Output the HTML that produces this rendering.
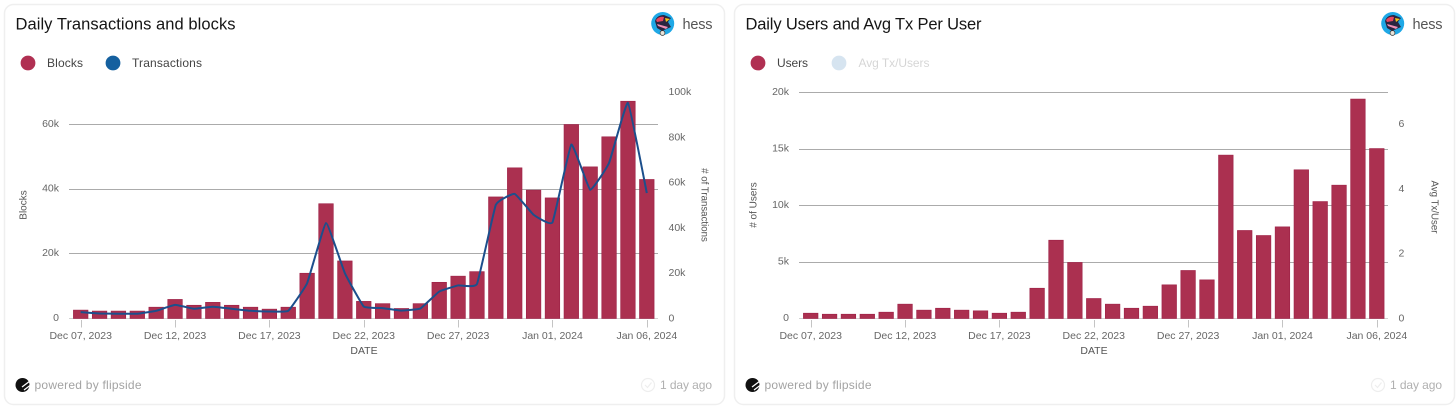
<!DOCTYPE html>
<html lang="en">
<head>
<meta charset="utf-8">
<title>Daily Transactions and Users</title>
<style>
html,body{margin:0;padding:0;width:1456px;height:411px;background:#fff;overflow:hidden}
svg{display:block}
text{font-family:"Liberation Sans",Arial,sans-serif}
</style>
</head>
<body>
<svg id="root" xmlns="http://www.w3.org/2000/svg" width="1456" height="411" viewBox="0 0 1456 411"></svg>
<script>
const dates = ["Dec 07, 2023","Dec 08, 2023","Dec 09, 2023","Dec 10, 2023","Dec 11, 2023","Dec 12, 2023","Dec 13, 2023","Dec 14, 2023","Dec 15, 2023","Dec 16, 2023","Dec 17, 2023","Dec 18, 2023","Dec 19, 2023","Dec 20, 2023","Dec 21, 2023","Dec 22, 2023","Dec 23, 2023","Dec 24, 2023","Dec 25, 2023","Dec 26, 2023","Dec 27, 2023","Dec 28, 2023","Dec 29, 2023","Dec 30, 2023","Dec 31, 2023","Jan 01, 2024","Jan 02, 2024","Jan 03, 2024","Jan 04, 2024","Jan 05, 2024","Jan 06, 2024"];
const blocks = [2600,2300,2300,2300,3500,5900,4100,5000,4100,3500,2900,3500,14000,35500,17800,5300,4600,3100,4600,11200,13100,14500,37600,46600,39700,37300,60000,46900,56200,67200,43000];
const transactions = [2800,2200,2100,2100,3400,6000,4300,5200,4300,3400,3100,3400,15600,42100,20000,5300,4600,3500,4400,11900,14600,15200,50200,55000,45800,42400,76800,56800,68700,95200,55400];
const users = [470,380,380,380,560,1270,740,910,740,680,470,560,2680,6930,4960,1770,1270,910,1090,2980,4250,3420,14460,7790,7345,8110,13160,10350,11800,19420,15040];
const blockTicks = [0,20000,40000,60000];
const transactionTicks = [0,20000,40000,60000,80000,100000];
const userTicks = [0,5000,10000,15000,20000];
const avgTxTicks = [0,2,4,6];

const NS = "http://www.w3.org/2000/svg";
const root = document.getElementById("root");
const BAR = "#ab3050", BAR_STROKE = "#9d2046", LINE = "#1c4f8c";

function mk(parent, tag, attrs, txt) {
  const e = document.createElementNS(NS, tag);
  for (const k in attrs) e.setAttribute(k, attrs[k]);
  if (txt !== undefined) e.textContent = txt;
  parent.appendChild(e);
  return e;
}
function fmt(v) { return v === 0 ? "0" : v >= 1000 ? (v / 1000) + "k" : String(v); }
const Y0 = 318.5;
function xScale(i) { return 80.7 + i * 18.87; }
function linear(max, top) { return v => Y0 - v / max * (Y0 - top); }
function smoothPath(pts) {
  let d = "M" + pts[0][0] + "," + pts[0][1];
  const t = 0.05;
  for (let i = 0; i < pts.length - 1; i++) {
    const p0 = pts[i - 1] || pts[i], p1 = pts[i], p2 = pts[i + 1], p3 = pts[i + 2] || p2;
    d += " C" + (p1[0] + (p2[0] - p0[0]) * t) + "," + (p1[1] + (p2[1] - p0[1]) * t) + " " +
      (p2[0] - (p3[0] - p1[0]) * t) + "," + (p2[1] - (p3[1] - p1[1]) * t) + " " + p2[0] + "," + p2[1];
  }
  return d;
}

function drawChrome(g, title, titleWidth) {
  const card = mk(g, "rect", {x:4.5, y:4.5, width:720, height:400, rx:9, fill:"#fff", stroke:"#efefef", "stroke-width":1.5});
  
  
  const t = mk(g, "text", {x:15.5, y:29.5, "font-size":16.5, fill:"#151515", textLength:titleWidth, lengthAdjust:"spacing"}, title);
  
  

  const av = mk(g, "g", {});
  
  
  mk(av, "circle", {cx:662.7, cy:23.5, r:11.5, fill:"#1fa8e6"});
  mk(av, "path", {d:"M655 21 Q657 15 664 15 L671 18 L668 22 L671 27 L662 31 L657 28 Z", fill:"#2a2440"});
  mk(av, "path", {d:"M656 20 Q659 16 664 17 L663 21 L657 22 Z", fill:"#e8455f"});
  mk(av, "path", {d:"M665 18 L670 19 L666 22 Z", fill:"#f5c518"});
  mk(av, "path", {d:"M657 24 L668 27 L666 29 L658 26 Z", fill:"#ef8fb5"});
  mk(av, "circle", {cx:662.5, cy:33, r:2.4, fill:"#e8e4da", stroke:"#333", "stroke-width":.7});
  const hs = mk(g, "text", {x:682.5, y:29, "font-size":14.5, fill:"#555", textLength:30}, "hess");
  
  

  const lg = mk(g, "g", {});
  
  
  mk(lg, "circle", {cx:22.5, cy:385, r:7, fill:"#111"});
  mk(lg, "path", {d:"M22 387 L30 381 M24 390 L30 385.5", stroke:"#fff", "stroke-width":1.3, fill:"none"});
  const pw = mk(g, "text", {x:34.5, y:389, "font-size":12, fill:"#a3a3a3", textLength:107}, "powered by flipside");
  
  
  const ck = mk(g, "g", {});
  
  
  mk(ck, "circle", {cx:648, cy:385, r:6.5, fill:"none", stroke:"#eeeeee", "stroke-width":1.2});
  mk(ck, "path", {d:"M645 385 L647.5 387.5 L651.5 382.5", fill:"none", stroke:"#eeeeee", "stroke-width":1.2});
  const ag = mk(g, "text", {x:660, y:389, "font-size":12, fill:"#b0b0b0", textLength:52}, "1 day ago");
  
  
}

function drawLegend(g, entries) {
  entries.forEach(en => {
    const l = mk(g, "g", {opacity: en.muted ? 0.22 : 1});
    
    
    mk(l, "circle", {cx:en.cx, cy:63, r:7.4, fill:en.color});
    mk(l, "text", {x:en.tx, y:67, "font-size":12, fill:"#444", textLength:en.w}, en.label);
  });
}

function drawAxes(g, leftTicks, yL, leftTitle, leftTitleY, rightTicks, yR, rightTitle, rightTitleY, rightX) {
  leftTicks.forEach(v => {
    const y = Math.floor(yL(v)) + 0.5;
    const gl = mk(g, "line", {x1:69, x2:658, y1:y, y2:y, stroke: v === 0 ? "#d2d2d2" : "#ababab", "stroke-width":1});
    
    
    const tl = mk(g, "text", {x:59, y:yL(v) + 2.4, "font-size":10.5, fill:"#666", "text-anchor":"end"}, fmt(v));
    
    
  });
  rightTicks.forEach(v => {
    const tr = mk(g, "text", {x:rightX, y:yR(v) + 3, "font-size":10.5, fill:"#666"}, fmt(v));
    
    
  });
  dates.forEach((d, i) => {
    if (i % 5) return;
    const x = Math.round(xScale(i)) + 0.5;
    const tk = mk(g, "line", {x1:x, x2:x, y1:320, y2:327.5, stroke:"#c4c4c4", "stroke-width":1});
    
    
    const lb = mk(g, "text", {x:xScale(i), y:339, "font-size":10.5, fill:"#666", "text-anchor":"middle"}, d);
    
    
  });
  const xt = mk(g, "text", {x:364, y:354, "font-size":10.5, fill:"#555", "text-anchor":"middle"}, "DATE");
  
  
  const lt = mk(g, "text", {transform:"translate(26.5," + leftTitleY + ") rotate(-90)", "font-size":10, fill:"#555", "text-anchor":"middle"}, leftTitle);
  
  
  const rt = mk(g, "text", {transform:"translate(701.5," + rightTitleY + ") rotate(90)", "font-size":9.7, fill:"#555", "text-anchor":"middle"}, rightTitle);
  
  
}

function drawBars(g, values, y) {
  values.forEach((v, i) => {
    const b = mk(g, "rect", {x:xScale(i) - 7.3, y:y(v), width:14.6, height:Y0 - y(v), fill:BAR, stroke:BAR_STROKE, "stroke-width":.6});
    
    
  });
}

/* Left chart */
const g1 = mk(root, "g", {});


drawChrome(g1, "Daily Transactions and blocks", 220);
drawLegend(g1, [
  {cx:28, tx:47, w:36, color:"#b03052", label:"Blocks"},
  {cx:113, tx:132, w:70, color:"#15609f", label:"Transactions"}
]);
const yBlocks = linear(60000, 124.5);
const yTx = linear(100000, 92);
drawAxes(g1, blockTicks, yBlocks, "Blocks", 205, transactionTicks, yTx, "# of Transactions", 205, 668.5);
drawBars(g1, blocks, yBlocks);
const txLine = mk(g1, "path", {d:smoothPath(transactions.map((v, i) => [xScale(i), yTx(v)])), fill:"none", stroke:LINE, "stroke-width":2, "stroke-linejoin":"round"});



/* Right chart */
const g2 = mk(root, "g", {transform:"translate(730,0)"});


drawChrome(g2, "Daily Users and Avg Tx Per User", 236);
drawLegend(g2, [
  {cx:28, tx:47, w:31, color:"#b03052", label:"Users"},
  {cx:109, tx:128.5, w:71, color:"#4a86c0", label:"Avg Tx/Users", muted:true}
]);
const yUsers = linear(20000, 92.5);
const yAvg = linear(6, 124);
drawAxes(g2, userTicks, yUsers, "# of Users", 205, avgTxTicks, yAvg, "Avg Tx/User", 207, 668.5);
drawBars(g2, users, yUsers);
</script>
</body>
</html>
